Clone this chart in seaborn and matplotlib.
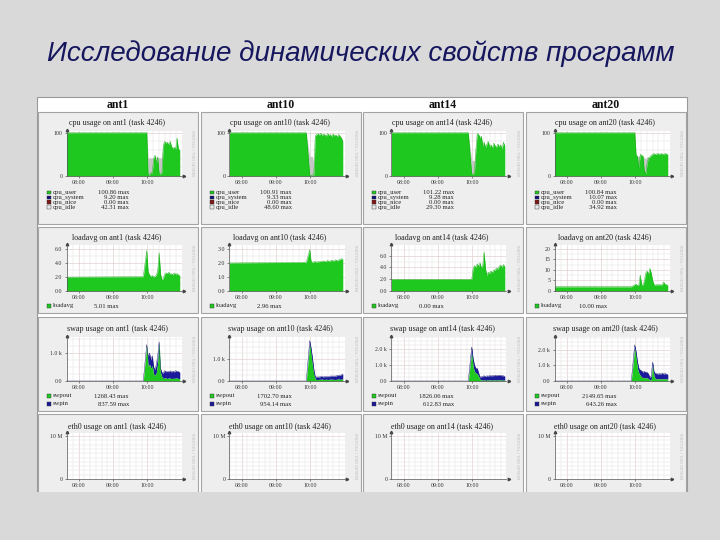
import matplotlib
matplotlib.use("Agg")
import matplotlib.pyplot as plt
import seaborn as sns
import pandas as pd
from matplotlib.patches import Rectangle
from matplotlib.ticker import MultipleLocator

sns.set_theme(style="white")
plt.rcParams['font.family'] = ['Liberation Serif', 'DejaVu Serif']

# ---------------- data ----------------
SLIDE_TITLE = "Исследование динамических свойств программ"
HOSTS = ["ant1", "ant10", "ant14", "ant20"]
X_TICKS = [8, 9, 10]
X_TICK_LABELS = ["08:00", "09:00", "10:00"]

T = [7.65, 9.88, 9.98, 10.02, 10.06, 10.10, 10.14, 10.18, 10.22, 10.26, 10.30,
     10.34, 10.38, 10.42, 10.46, 10.50, 10.54, 10.58, 10.62, 10.66, 10.70,
     10.74, 10.78, 10.82, 10.86, 10.90, 10.94]

cpu_user_ant1 = [100, 100, 100, 4, 2, 8, 6, 40, 48, 30, 44, 6, 4, 8, 70, 80, 76, 78, 72, 80, 68, 64, 66, 62, 88, 62, 60]
cpu_idle_ant1 = [0, 0, 0, 38, 40, 34, 36, 2, 0, 12, 0, 36, 38, 34, 4, 0, 0, 0, 0, 0, 0, 0, 0, 0, 0, 0, 0]
cpu_user_ant10 = [100, 100, 3, 0, 3, 2, 92, 96, 98, 94, 99, 93, 97, 95, 92, 98, 94, 96, 91, 97, 93, 95, 90, 96, 92, 88, 80]
cpu_idle_ant10 = [0, 0, 40, 46, 42, 30, 0, 0, 0, 0, 0, 0, 0, 0, 0, 0, 0, 0, 0, 0, 0, 0, 0, 0, 0, 0, 0]
cpu_user_ant14 = [100, 100, 5, 3, 10, 60, 98, 96, 88, 92, 70, 78, 66, 74, 80, 68, 72, 64, 76, 70, 66, 74, 68, 72, 62, 78, 70]
cpu_idle_ant14 = [0, 0, 30, 34, 25, 5, 0, 0, 0, 0, 0, 0, 0, 0, 0, 0, 0, 0, 0, 0, 0, 0, 0, 0, 0, 0, 0]
cpu_user_ant20 = [100, 100, 100, 48, 46, 20, 50, 48, 46, 12, 5, 30, 42, 44, 48, 50, 52, 50, 51, 52, 50, 52, 51, 50, 52, 51, 50]
cpu_idle_ant20 = [0, 0, 0, 0, 0, 25, 0, 0, 0, 30, 35, 15, 0, 0, 0, 0, 0, 0, 0, 0, 0, 0, 0, 0, 0, 0, 0]

load_ant1 = [2.0, 2.05, 5.8, 2.8, 2.3, 2.1, 2.2, 2.0, 2.1, 2.3, 3.0, 5.5, 2.5, 1.6, 1.8, 2.4, 2.6, 2.5, 2.7, 2.4, 2.5, 2.3, 2.6, 2.4, 2.5, 2.3, 2.2]
load_ant10 = [2.0, 2.05, 2.95, 2.1, 2.05, 2.08, 2.1, 2.05, 2.1, 2.08, 2.12, 2.1, 2.15, 2.1, 2.12, 2.18, 2.1, 2.15, 2.2, 2.12, 2.18, 2.22, 2.15, 2.2, 2.25, 2.3, 2.28]
load_ant14 = [2.0, 2.0, 2.0, 3.8, 4.3, 4.0, 4.6, 4.2, 4.8, 3.9, 4.4, 6.6, 3.8, 2.6, 3.2, 3.0, 3.4, 3.1, 3.6, 3.5, 3.9, 3.7, 4.2, 4.4, 4.0, 4.5, 4.1]
load_ant20 = [2.0, 2.0, 3.0, 3.2, 2.6, 3.0, 7.5, 3.0, 2.8, 5.0, 8.5, 9.5, 8.0, 10.8, 8.5, 5.0, 3.0, 2.8, 3.0, 2.9, 3.0, 2.9, 3.0, 4.3, 3.2, 3.0, 2.8]

swpout_ant1 = [0, 0, 1300, 500, 600, 450, 550, 250, 200, 300, 650, 1400, 300, 150, 80, 120, 100, 90, 110, 100, 80, 100, 90, 110, 100, 90, 80]
swpin_ant1 = [0, 0, 0, 350, 400, 300, 350, 250, 200, 300, 250, 0, 150, 150, 200, 250, 230, 250, 220, 260, 240, 250, 230, 260, 240, 250, 230]
swpout_ant10 = [0, 0, 1650, 1200, 700, 300, 80, 70, 60, 80, 70, 90, 60, 70, 80, 60, 70, 90, 70, 80, 60, 70, 80, 90, 70, 80, 90]
swpin_ant10 = [0, 0, 150, 250, 300, 200, 100, 110, 120, 100, 130, 110, 120, 130, 110, 140, 120, 130, 150, 140, 160, 150, 170, 160, 180, 200, 230]
swpout_ant14 = [0, 0, 1800, 900, 600, 500, 450, 300, 100, 60, 50, 70, 40, 60, 50, 70, 60, 50, 60, 70, 50, 60, 70, 60, 50, 60, 50]
swpin_ant14 = [0, 0, 350, 500, 400, 300, 350, 200, 150, 200, 250, 260, 240, 270, 250, 280, 260, 290, 270, 300, 280, 310, 290, 300, 280, 270, 250]
swpout_ant20 = [0, 0, 2100, 1500, 800, 500, 350, 250, 200, 220, 180, 200, 150, 60, 80, 1000, 300, 150, 120, 140, 130, 120, 150, 130, 140, 120, 130]
swpin_ant20 = [0, 0, 200, 350, 400, 300, 350, 400, 350, 400, 380, 350, 300, 150, 250, 200, 300, 320, 350, 300, 340, 320, 350, 310, 330, 320, 300]

cpu_legend_ant1 = ["100.86", "9.20", "0.00", "42.31"]
cpu_legend_ant10 = ["100.91", "9.33", "0.00", "48.60"]
cpu_legend_ant14 = ["101.22", "9.28", "0.00", "29.30"]
cpu_legend_ant20 = ["100.84", "10.07", "0.00", "34.92"]
load_legend = ["5.01", "2.96", "0.00", "10.00"]
swap_legend_ant1 = ["1268.43", "837.59"]
swap_legend_ant10 = ["1702.70", "954.14"]
swap_legend_ant14 = ["1826.06", "612.83"]
swap_legend_ant20 = ["2149.65", "643.26"]

load_ymax = [6.6, 3.28, 7.8, 21.9]
load_ticks_ant1 = [0, 2, 4, 6]
load_ticks_ant10 = [0, 1, 2, 3]
load_ticks_ant14 = [0, 2, 4, 6]
load_ticks_ant20 = [0, 5, 10, 15, 20]
swap_ymax = [1570, 1960, 2780, 2800]
swap_ticks_small = [0, 1000]
swap_ticks_big = [0, 1000, 2000]

cpu_user = [cpu_user_ant1, cpu_user_ant10, cpu_user_ant14, cpu_user_ant20]
cpu_idle = [cpu_idle_ant1, cpu_idle_ant10, cpu_idle_ant14, cpu_idle_ant20]
loads = [load_ant1, load_ant10, load_ant14, load_ant20]
swpout = [swpout_ant1, swpout_ant10, swpout_ant14, swpout_ant20]
swpin = [swpin_ant1, swpin_ant10, swpin_ant14, swpin_ant20]
cpu_leg = [cpu_legend_ant1, cpu_legend_ant10, cpu_legend_ant14, cpu_legend_ant20]
swap_leg = [swap_legend_ant1, swap_legend_ant10, swap_legend_ant14, swap_legend_ant20]
load_ticks = [load_ticks_ant1, load_ticks_ant10, load_ticks_ant14, load_ticks_ant20]
swap_ticks = [swap_ticks_small, swap_ticks_small, swap_ticks_big, swap_ticks_big]

# ---------------- styling ----------------
GREEN = '#1fc81f'
GREEN_EDGE = '#12a812'
BLUE = '#1a1a9a'
IDLE = '#c6c6c6'
BG = '#d9d9d9'
PANEL = '#eeeeee'
PANEL_EDGE = '#a4a4a4'
TXT = '#222222'

W, H = 720, 540
fig = plt.figure(figsize=(7.2, 5.4), dpi=100)
fig.patch.set_facecolor(BG)


def fx(x):
    return x / W


def fy(y):
    return 1 - y / H


def rect_px(x0, y0, x1, y1, z=-1, **kw):
    r = Rectangle((fx(x0), fy(y1)), (x1 - x0) / W, (y1 - y0) / H,
                  transform=fig.transFigure, zorder=z, **kw)
    fig.add_artist(r)
    return r


def ftext(x, y, s, **kw):
    kw.setdefault('color', TXT)
    fig.text(fx(x), fy(y), s, **kw)


# slide title
ftext(361, 61, SLIDE_TITLE, ha='center', va='baseline', fontsize=20,
      style='italic', family=['Liberation Sans', 'DejaVu Sans'], color='#16165e')

# screenshot area
rect_px(37, 97, 687, 495, z=-3, facecolor='white', edgecolor='#9a9a9a', lw=0.8)

COL_X = [37, 200, 362, 525]
COL_W = 161
ROWS = {
    'cpu': dict(box=(112, 224), title=123, plot=(131, 176)),
    'load': dict(box=(227, 313), title=238, plot=(245, 291)),
    'swap': dict(box=(317, 411), title=329, plot=(337, 381)),
    'eth': dict(box=(414, 500), title=427, plot=(433, 479)),
}
PX0, PX1 = 29.5, 144.5
XLIM = (7.65, 10.99)


def style_axes(ax, ymax, yticks, ylabels, yminor):
    ax.set_facecolor('white')
    ax.set_xlim(*XLIM)
    ax.set_ylim(0, ymax)
    ax.set_xticks(X_TICKS)
    ax.set_xticklabels(X_TICK_LABELS)
    ax.set_yticks(yticks)
    ax.set_yticklabels(ylabels)
    ax.xaxis.set_minor_locator(MultipleLocator(1 / 6))
    ax.yaxis.set_minor_locator(MultipleLocator(yminor))
    ax.set_axisbelow(True)
    ax.grid(which='minor', color='#e6e2e2', lw=0.35)
    ax.grid(which='major', color='#dccccc', lw=0.45)
    ax.tick_params(which='major', bottom=True, left=True, length=1.5, width=0.4,
                   labelsize=4.2, pad=1.5, colors='#333333')
    ax.tick_params(which='minor', length=0)
    for s in ['top', 'right']:
        ax.spines[s].set_visible(False)
    for s in ['left', 'bottom']:
        ax.spines[s].set_color('#555555')
        ax.spines[s].set_linewidth(0.5)
    ax.set_xlabel('')
    ax.set_ylabel('')
    ax.plot([1.02], [0], marker='>', ms=1.8, color='#444444', transform=ax.transAxes, clip_on=False)
    ax.plot([0], [1.02], marker='^', ms=1.8, color='#444444', transform=ax.transAxes, clip_on=False)


def make_axes(c, row):
    x0 = COL_X[c]
    y0, y1 = ROWS[row]['plot']
    return fig.add_axes([fx(x0 + PX0), fy(y1), (PX1 - PX0) / W, (y1 - y0) / H])


def legend_entry(x0, y, color, label, value, vx, edge='#333333'):
    rect_px(x0 + 10, y - 1.8, x0 + 13.6, y + 1.8, z=2, facecolor=color, edgecolor=edge, lw=0.3)
    ftext(x0 + 15.5, y, label, ha='left', va='center', fontsize=4.8)
    ftext(x0 + vx, y, value + " max", ha='right', va='center', fontsize=4.8)


for c, host in enumerate(HOSTS):
    x0 = COL_X[c]
    # column header
    ftext(x0 + COL_W / 2 + 0.5, 105.5, host, ha='center', va='center', fontsize=8.5, weight='bold', color='#111111')
    for row, info in ROWS.items():
        b0, b1 = info['box']
        rect_px(x0 + 1, b0, x0 + COL_W, b1, z=-1, facecolor=PANEL, edgecolor=PANEL_EDGE, lw=0.8)
        titles = {'cpu': 'cpu usage on', 'load': 'loadavg on', 'swap': 'swap usage on', 'eth': 'eth0 usage on'}
        ftext(x0 + 80, info['title'], f"{titles[row]} {host} (task 4246)", ha='center', va='center', fontsize=5.8)
        p0, p1 = info['plot']
        ftext(x0 + 155, (p0 + p1) / 2, "RRDTOOL / TOBI OETIKER", ha='center', va='center',
              fontsize=2.6, rotation=270, color='#bdbdbd', family=['DejaVu Sans'])

    # cpu
    ax = make_axes(c, 'cpu')
    df = pd.DataFrame({'t': T, 'user': cpu_user[c], 'idle': cpu_idle[c]})
    df['total'] = df['user'] + df['idle']
    ax.fill_between(df['t'], df['user'], df['total'], color=IDLE, lw=0)
    ax.fill_between(df['t'], 0, df['user'], color=GREEN, lw=0)
    sns.lineplot(data=df, x='t', y='user', ax=ax, color=GREEN_EDGE, lw=0.3)
    style_axes(ax, 104, [0, 100], ['0', '100'], 20)
    ys = [192.3, 197.3, 202.2, 207.2]
    names = ['cpu_user', 'cpu_system', 'cpu_nice', 'cpu_idle']
    cols = [GREEN, '#10107a', '#801818', '#e8e8e8']
    for y, n, col, v in zip(ys, names, cols, cpu_leg[c]):
        legend_entry(x0, y, col, n, v, 92)

    # loadavg
    ax = make_axes(c, 'load')
    df = pd.DataFrame({'t': T, 'load': loads[c]})
    ax.fill_between(df['t'], 0, df['load'], color=GREEN, lw=0)
    sns.lineplot(data=df, x='t', y='load', ax=ax, color=GREEN_EDGE, lw=0.3)
    lt = load_ticks[c]
    labels = [f"{v:.1f}" for v in lt] if c != 3 else [str(v) for v in lt]
    style_axes(ax, load_ymax[c], lt, labels, (lt[1] - lt[0]) / 2)
    legend_entry(x0, 306, GREEN, 'loadavg', load_legend[c], 82)

    # swap
    ax = make_axes(c, 'swap')
    df = pd.DataFrame({'t': T, 'out': swpout[c], 'in': swpin[c]})
    df['total'] = df['out'] + df['in']
    ax.fill_between(df['t'], df['out'], df['total'], color=BLUE, lw=0)
    ax.fill_between(df['t'], 0, df['out'], color=GREEN, lw=0)
    sns.lineplot(data=df, x='t', y='total', ax=ax, color='#101070', lw=0.3)
    st = swap_ticks[c]
    style_axes(ax, swap_ymax[c], st, ['0.0' if v == 0 else f"{v/1000:.1f} k" for v in st], 250)
    legend_entry(x0, 396, GREEN, 'swpout', swap_leg[c][0], 92)
    legend_entry(x0, 404, BLUE, 'swpin', swap_leg[c][1], 92)

    # eth0 (no traffic)
    ax = make_axes(c, 'eth')
    style_axes(ax, 10.7e6, [0, 10e6], ['0', '10 M'], 1e6)

# bottom of the screenshot is cut off by the slide background
rect_px(0, 492, 720, 540, z=10, facecolor=BG, edgecolor='none')

fig.savefig("out.png", dpi=100, facecolor=fig.get_facecolor())
